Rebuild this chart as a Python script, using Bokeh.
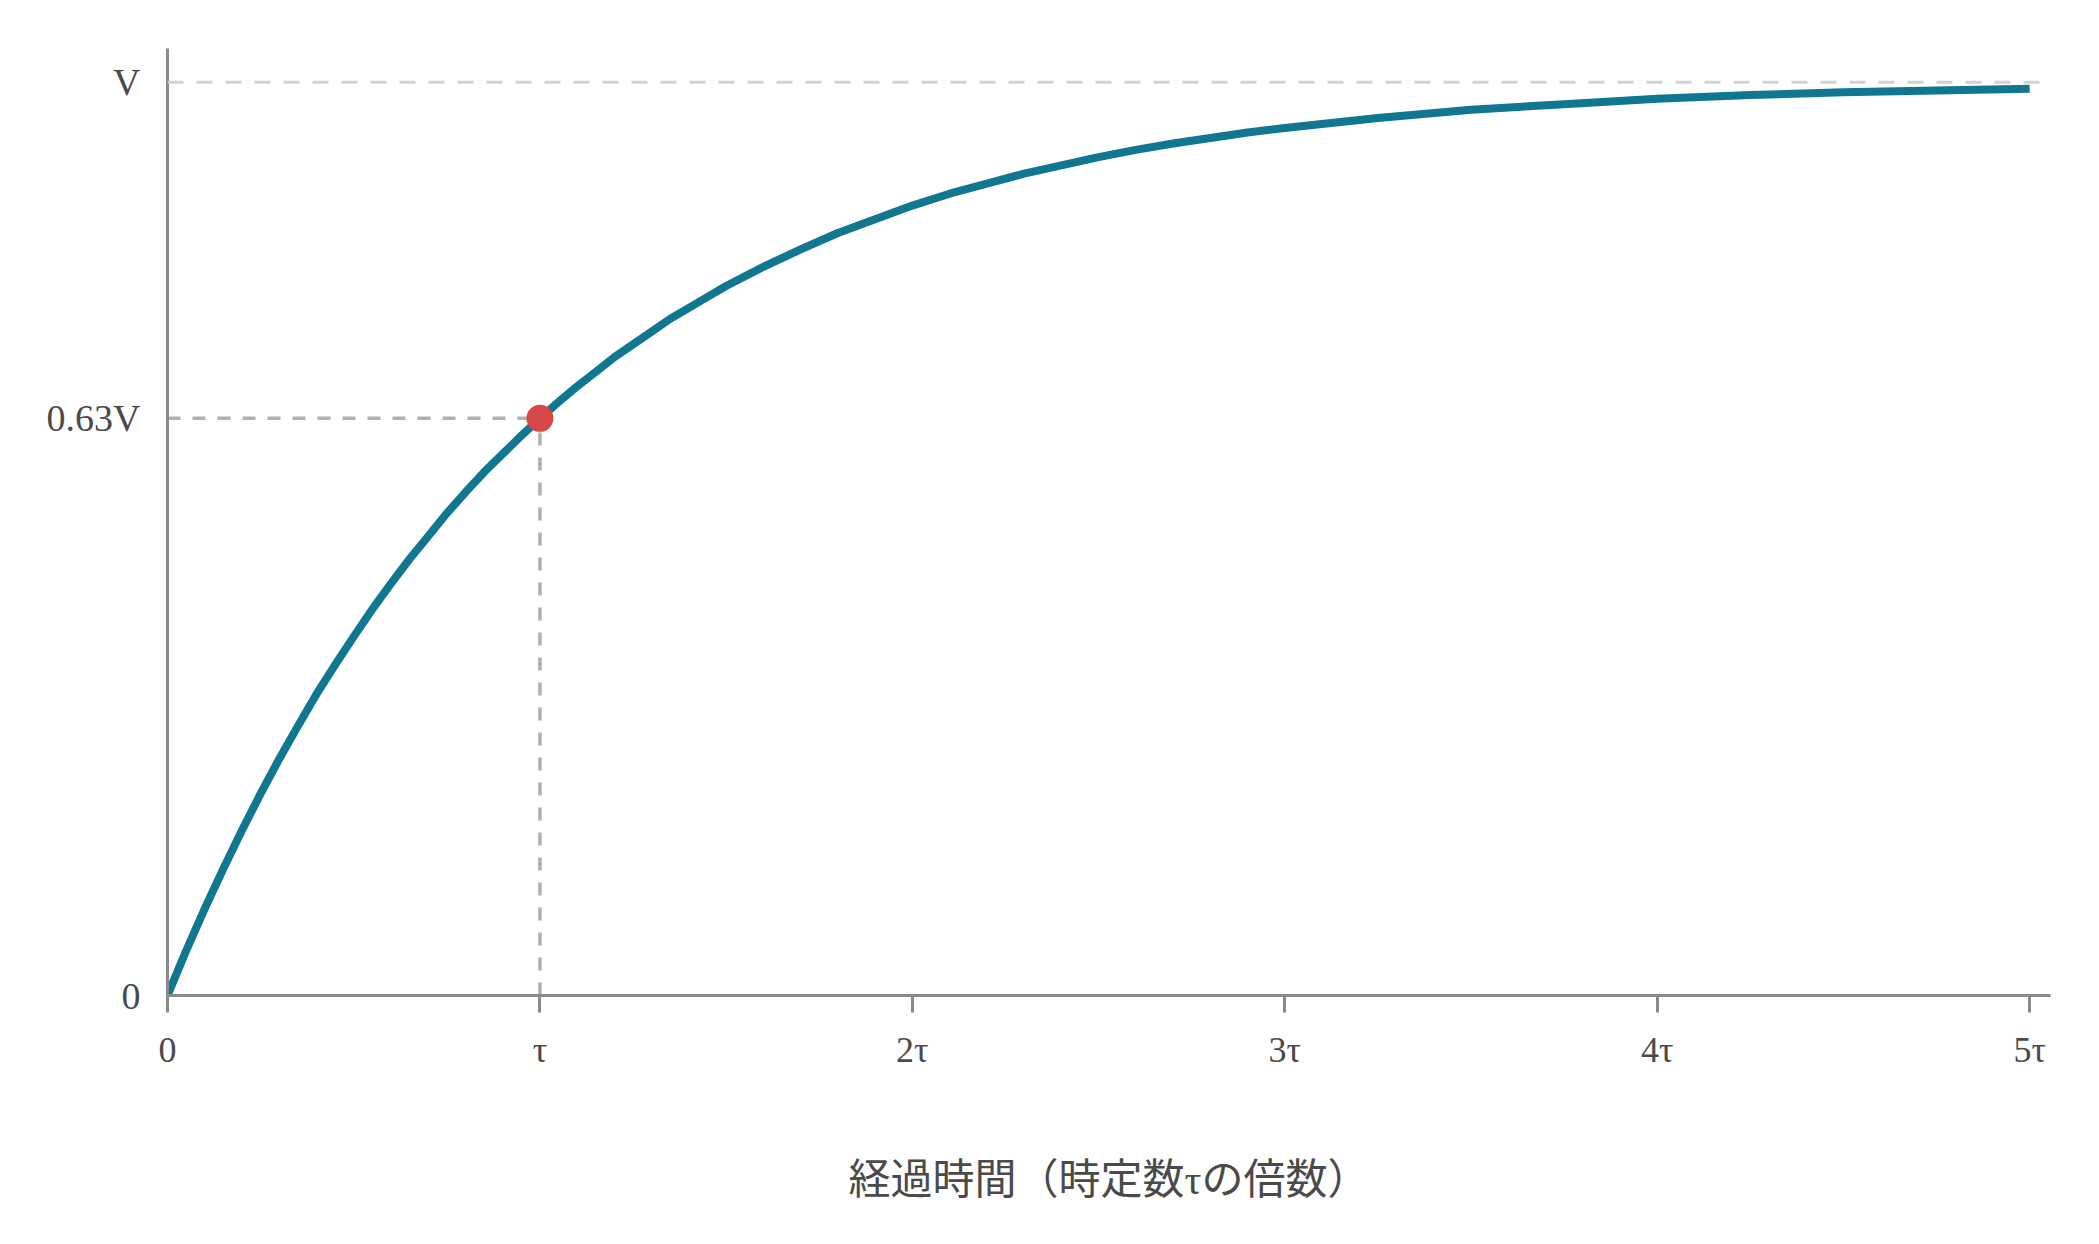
from bokeh.plotting import figure
from bokeh.models import Range1d, FixedTicker, Span
from bokeh.embed import file_html
from bokeh.resources import INLINE

# ---- data ----
t_values = [0.0, 0.05, 0.1, 0.15, 0.2, 0.25, 0.3, 0.35, 0.4, 0.45, 0.5,
            0.55, 0.6, 0.65, 0.7, 0.75, 0.8, 0.85, 0.9, 0.95, 1.0,
            1.05, 1.1, 1.15, 1.2, 1.25, 1.3, 1.35, 1.4, 1.45, 1.5,
            1.6, 1.7, 1.8, 1.9, 2.0, 2.1, 2.2, 2.3, 2.4, 2.5,
            2.6, 2.7, 2.8, 2.9, 3.0, 3.25, 3.5, 3.75, 4.0, 4.25, 4.5, 4.75, 5.0]
v_values = [0.0, 0.049, 0.095, 0.139, 0.181, 0.221, 0.259, 0.295, 0.330, 0.362, 0.393,
            0.423, 0.451, 0.478, 0.503, 0.528, 0.551, 0.573, 0.593, 0.613, 0.632,
            0.650, 0.667, 0.683, 0.699, 0.713, 0.727, 0.741, 0.753, 0.765, 0.777,
            0.798, 0.817, 0.835, 0.850, 0.865, 0.878, 0.889, 0.900, 0.909, 0.918,
            0.926, 0.933, 0.939, 0.945, 0.950, 0.961, 0.970, 0.976, 0.982, 0.986, 0.989, 0.991, 0.993]
marker_t = [1.0]
marker_v = [0.632]
x_ticks = [0, 1, 2, 3, 4, 5]
x_tick_labels = ["0", "τ", "2τ", "3τ", "4τ", "5τ"]
y_ticks = [0, 0.632, 1.0]
y_tick_labels = ["0", "0.63V", "V"]
x_label = "経過時間（時定数τの倍数）"

SERIF = "Liberation Serif, Noto Sans CJK JP"
TEXT = "#4a4a4a"
AXIS = "#8a8a8a"

p = figure(width=2083, height=1228, output_backend="svg", toolbar_location=None,
           x_range=Range1d(0, 5.056), y_range=Range1d(0, 1.037),
           min_border_left=167, min_border_right=33, min_border_top=48, min_border_bottom=233)
p.outline_line_color = None
p.grid.visible = False
p.background_fill_color = "white"
p.border_fill_color = "white"

# reference lines
p.add_layout(Span(location=1.0, dimension="width", line_color="#d2d2d2",
                  line_width=3, line_dash="16 13"))
p.segment(x0=[0], y0=marker_v, x1=marker_t, y1=marker_v, line_color="#b0b0b0",
          line_width=3.5, line_dash="13 12")
p.segment(x0=marker_t, y0=[0], x1=marker_t, y1=marker_v, line_color="#b0b0b0",
          line_width=3.5, line_dash="13 12")

# curve and marker
p.line(t_values, v_values, line_color="#117791", line_width=8, line_join="round")
p.scatter(marker_t, marker_v, size=27, fill_color="#d64848", line_color=None)

# x axis
xa = p.xaxis[0]
xa.ticker = FixedTicker(ticks=x_ticks)
xa.major_label_overrides = {k: v for k, v in zip(x_ticks, x_tick_labels)}
xa.axis_line_color = AXIS
xa.axis_line_width = 3
xa.major_tick_line_color = AXIS
xa.major_tick_line_width = 3
xa.major_tick_out = 17
xa.major_tick_in = 0
xa.minor_tick_line_color = None
xa.major_label_text_font = SERIF
xa.major_label_text_font_size = "36px"
xa.major_label_text_color = TEXT
xa.major_label_standoff = 17
xa.axis_label = x_label
xa.axis_label_text_font = SERIF
xa.axis_label_text_font_size = "42px"
xa.axis_label_text_font_style = "normal"
xa.axis_label_text_color = TEXT
xa.axis_label_standoff = 84

# y axis
ya = p.yaxis[0]
ya.ticker = FixedTicker(ticks=y_ticks)
ya.major_label_overrides = {k: v for k, v in zip(y_ticks, y_tick_labels)}
ya.axis_line_color = AXIS
ya.axis_line_width = 3
ya.major_tick_line_color = None
ya.major_tick_out = 0
ya.major_tick_in = 0
ya.minor_tick_line_color = None
ya.major_label_text_font = SERIF
ya.major_label_text_font_size = "38px"
ya.major_label_text_color = TEXT
ya.major_label_standoff = 27

open("out.html", "w").write(file_html(p, INLINE))
